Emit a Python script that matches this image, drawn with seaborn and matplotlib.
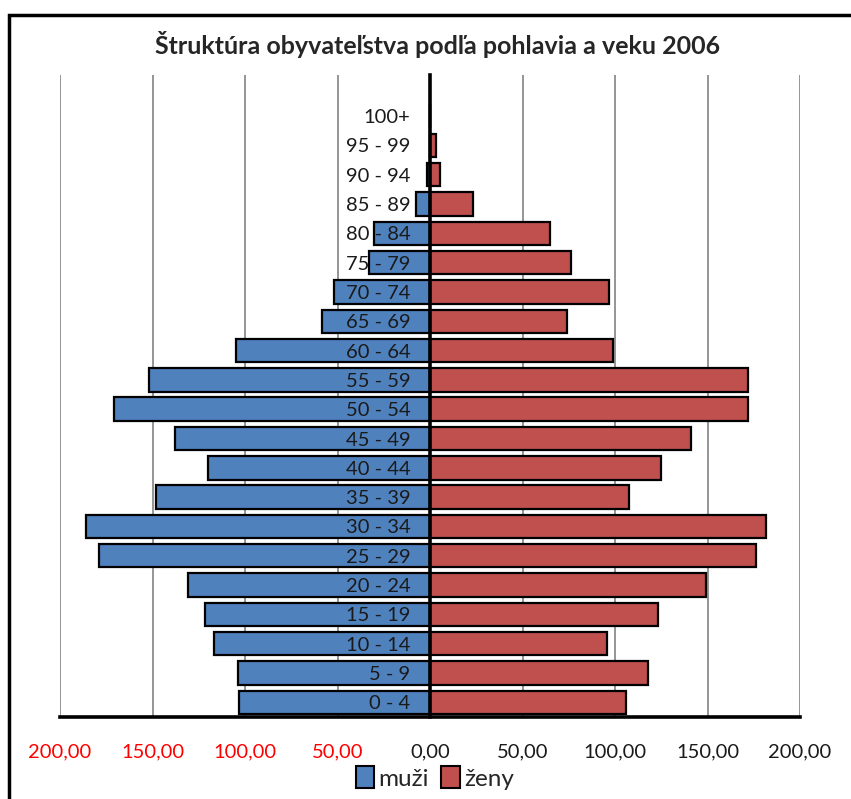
import numpy as np
import pandas as pd
import seaborn as sns
import matplotlib.pyplot as plt
from matplotlib.ticker import FuncFormatter, MultipleLocator
from matplotlib.patches import Rectangle, Patch

# DATA
age_groups = ['100+', '95 - 99', '90 - 94', '85 - 89', '80 - 84', '75 - 79',
              '70 - 74', '65 - 69', '60 - 64', '55 - 59', '50 - 54', '45 - 49',
              '40 - 44', '35 - 39', '30 - 34', '25 - 29', '20 - 24', '15 - 19',
              '10 - 14', '5 - 9', '0 - 4']
muzi = [0, 0, 1.5, 7.5, 30.5, 33, 52, 58.5, 105, 152, 171, 138,
        120, 148, 186, 179, 131, 121.5, 117, 104, 103]
zeny = [0, 3, 5.5, 23, 65, 76, 97, 74, 99, 172, 172, 141,
        125, 107.5, 181.5, 176, 149, 123, 95.5, 118, 106]
series_names = ['muži', 'ženy']
colors = ['#4F81BD', '#C0504D']
title = 'Štruktúra obyvateľstva podľa pohlavia a veku 2006'

df = pd.DataFrame({'vek': age_groups, 'muzi': -np.array(muzi), 'zeny': zeny})

# THEME
sns.set_theme(style='white')
plt.rcParams['font.family'] = ['Lato', 'DejaVu Sans']

fig = plt.figure(figsize=(8.51, 7.99), dpi=100)
ax = fig.add_axes([60 / 851, 1 - 717 / 799, 740 / 851, (717 - 75) / 799])

# PLOTTING
for col, c in zip(['muzi', 'zeny'], colors):
    sns.barplot(data=df, x=col, y='vek', order=age_groups, color=c,
                orient='h', width=0.8, edgecolor='black', linewidth=1.6,
                saturation=1, ax=ax)

ax.set_xlim(-200, 200)
ax.set_ylim(len(age_groups) - 0.5, -1.4)
ax.xaxis.set_major_locator(MultipleLocator(50))
ax.xaxis.set_major_formatter(FuncFormatter(lambda v, p: f'{abs(v):.2f}'.replace('.', ',')))
ax.set_xlabel('')
ax.set_ylabel('')

# GRID + SPINES
ax.grid(axis='x', color='#8c8c8c', linewidth=1.3)
ax.grid(axis='y', visible=False)
ax.set_axisbelow(True)
ax.yaxis.set_zorder(5)
for s in ['top', 'right']:
    ax.spines[s].set_visible(False)
ax.spines['left'].set_position(('data', 0))
ax.spines['left'].set_linewidth(2.6)
ax.spines['left'].set_color('black')
ax.spines['left'].set_zorder(6)
ax.spines['bottom'].set_linewidth(2.6)
ax.spines['bottom'].set_color('black')
ax.tick_params(axis='both', length=0)
ax.tick_params(axis='x', pad=19, labelsize=14.5)
ax.tick_params(axis='y', pad=14, labelsize=14.5)
for lbl in ax.get_yticklabels():
    lbl.set_color('#1a1a1a')
for lbl, v in zip(ax.get_xticklabels(), ax.get_xticks()):
    lbl.set_color('red' if v < 0 else '#1a1a1a')

ax.set_title(title, fontsize=18, fontweight='bold', pad=15, x=0.51)

# LEGEND
handles = [Patch(facecolor=c, edgecolor='black', linewidth=1.5) for c in colors]
fig.legend(handles, series_names, loc='center', bbox_to_anchor=(435 / 851, 1 - 778 / 799),
           ncol=2, frameon=False, fontsize=17.5, handlelength=0.75, handleheight=1.0,
           handletextpad=0.2, columnspacing=0.5)

# CHART FRAME (cropped at right and bottom)
fig.patches.append(Rectangle((8.5 / 851, -0.2), 1.5, 1.2 - 15 / 799, transform=fig.transFigure,
                             fill=False, edgecolor='black', linewidth=2.5))

fig.savefig('out.png', dpi=100)
